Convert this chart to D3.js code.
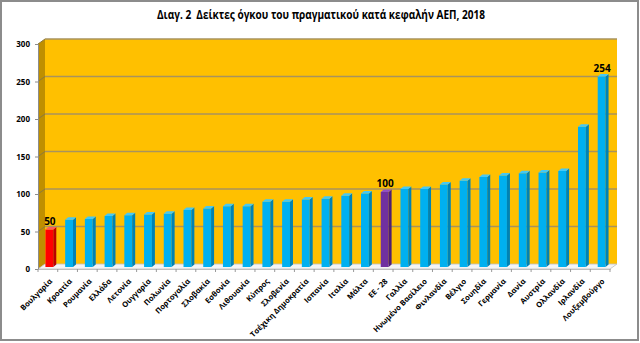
<!DOCTYPE html>
<html>
<head>
<meta charset="utf-8">
<script src="https://cdn.jsdelivr.net/npm/d3@7/dist/d3.min.js"></script>
<style>
  html, body { margin: 0; padding: 0; background: #fff; }
  svg { display: block; }
  text { font-family: "Open Sans", sans-serif; }
</style>
</head>
<body>
<div id="chart"></div>
<script>
const countries = ['Βουλγαρία', 'Κροατία', 'Ρουμανία', 'Ελλάδα', 'Λετονία', 'Ουγγαρία', 'Πολωνία',
  'Πορτογαλία', 'Σλοβακία', 'Εσθονία', 'Λιθουανία', 'Κύπρος', 'Σλοβενία', 'Τσέχικη Δημοκρατία',
  'Ισπανία', 'Ιταλία', 'Μάλτα', 'ΕΕ - 28', 'Γαλλία', 'Ηνωμένο Βασίλειο', 'Φινλανδία', 'Βέλγιο',
  'Σουηδία', 'Γερμανία', 'Δανία', 'Αυστρία', 'Ολλανδία', 'Ιρλανδία', 'Λουξεμβούργο'];
const values = [50, 63, 64, 68, 69, 70, 71, 76, 78, 81, 81, 87, 87, 90, 91, 95, 98, 100, 104, 104,
  110, 115, 120, 122, 125, 126, 128, 187, 254];
const labelled = ['Βουλγαρία', 'ΕΕ - 28', 'Λουξεμβούργο'];
const yTicks = [0, 50, 100, 150, 200, 250, 300];

const W = 640, H = 343;
const depth = { dx: 7, dy: -5 };

const svg = d3.select('#chart').append('svg')
  .attr('width', W)
  .attr('height', H);

// outer frame
svg.append('rect')
  .attr('x', 1).attr('y', 1)
  .attr('width', W - 3).attr('height', H - 4)
  .attr('fill', '#fff')
  .attr('stroke', '#8c8c8c')
  .attr('stroke-width', 2);

svg.append('text')
  .attr('x', 321)
  .attr('y', 19)
  .attr('text-anchor', 'middle')
  .attr('textLength', 328)
  .attr('lengthAdjust', 'spacingAndGlyphs')
  .style('font-size', '11.5px')
  .style('font-weight', 'bold')
  .style('white-space', 'pre')
  .text('Διαγ. 2  Δείκτες όγκου του πραγματικού κατά κεφαλήν ΑΕΠ, 2018');

const x = d3.scaleBand()
  .domain(countries)
  .range([38, 610])
  .paddingInner(0.5)
  .paddingOuter(0.25);

const y = d3.scaleLinear()
  .domain([0, 300])
  .range([269, 44]);

const x0 = 38, x1 = 610;

// back wall
svg.append('rect')
  .attr('x', x0 + depth.dx)
  .attr('y', y(300) + depth.dy)
  .attr('width', x1 - x0)
  .attr('height', y(0) - y(300))
  .attr('fill', '#FFC000');

// side wall
svg.append('polygon')
  .attr('points', [
    [x0, y(300)], [x0 + depth.dx, y(300) + depth.dy],
    [x0 + depth.dx, y(0) + depth.dy], [x0, y(0)]
  ].map(p => p.join(',')).join(' '))
  .attr('fill', '#BF8F00');

// floor
svg.append('polygon')
  .attr('points', [
    [x0, y(0)], [x0 + depth.dx, y(0) + depth.dy],
    [x1 + depth.dx, y(0) + depth.dy], [x1, y(0)]
  ].map(p => p.join(',')).join(' '))
  .attr('fill', '#F4F4F4')
  .attr('stroke', '#BFBFBF')
  .attr('stroke-width', 0.8);

// gridlines on the back wall and the side wall
const grid = svg.append('g');
yTicks.filter(t => t > 0).forEach(t => {
  grid.append('line')
    .attr('x1', x0 + depth.dx).attr('x2', x1 + depth.dx)
    .attr('y1', y(t) + depth.dy).attr('y2', y(t) + depth.dy)
    .attr('stroke', '#A8935E')
    .attr('stroke-width', 1.3);
  grid.append('line')
    .attr('x1', x0).attr('x2', x0 + depth.dx)
    .attr('y1', y(t)).attr('y2', y(t) + depth.dy)
    .attr('stroke', '#8E7A3C')
    .attr('stroke-width', 1);
});

// y axis
const yAxis = svg.append('g')
  .attr('transform', `translate(${x0},0)`)
  .call(d3.axisLeft(y).tickValues(yTicks).tickSize(3).tickPadding(5));
yAxis.select('.domain').attr('stroke', '#8c8c8c');
yAxis.selectAll('.tick line').attr('stroke', '#8c8c8c');
yAxis.selectAll('text')
  .style('font-size', '8px')
  .style('font-weight', 'bold')
  .attr('fill', '#000');

// x axis along the floor front edge
const xAxis = svg.append('g')
  .attr('transform', `translate(0,${y(0)})`)
  .call(d3.axisBottom(x).tickSize(0).tickPadding(0));
xAxis.select('.domain').attr('stroke', '#BFBFBF');
xAxis.selectAll('text')
  .style('font-size', '7.6px')
  .style('font-weight', 'bold')
  .attr('fill', '#000')
  .attr('text-anchor', 'end')
  .attr('y', 0)
  .attr('dy', '0.35em')
  .attr('transform', 'translate(3,11) rotate(-45)');

// category separators below the floor
svg.append('g')
  .selectAll('line')
  .data(d3.range(countries.length + 1))
  .enter().append('line')
  .attr('x1', i => x0 + i * x.step())
  .attr('x2', i => x0 + i * x.step())
  .attr('y1', y(0))
  .attr('y2', y(0) + 3)
  .attr('stroke', '#9a9a9a');

const colors = {
  'Βουλγαρία': ['#FF0000', '#B80000', '#FF5a5a'],
  'ΕΕ - 28': ['#7030A0', '#4E1F73', '#9152C0']
};
const blue = ['#00B0F0', '#0082B4', '#45C8F5'];
const bd = { dx: 2.5, dy: -2 };
const side = { dx: 3, dy: -2.5 };

const bars = svg.append('g')
  .selectAll('g')
  .data(countries)
  .enter().append('g');

bars.each(function (c, i) {
  const g = d3.select(this);
  const col = colors[c] || blue;
  const left = x(c) + bd.dx;
  const w = x.bandwidth() - side.dx + 1;
  const top = y(values[i]) + bd.dy;
  const bottom = y(0) + bd.dy;
  g.append('rect')
    .attr('x', left).attr('y', top)
    .attr('width', w).attr('height', bottom - top)
    .attr('fill', col[0]);
  g.append('polygon')
    .attr('points', [
      [left + w, top], [left + w + side.dx, top + side.dy],
      [left + w + side.dx, bottom + side.dy], [left + w, bottom]
    ].map(p => p.join(',')).join(' '))
    .attr('fill', col[1]);
  g.append('polygon')
    .attr('points', [
      [left, top], [left + side.dx, top + side.dy],
      [left + w + side.dx, top + side.dy], [left + w, top]
    ].map(p => p.join(',')).join(' '))
    .attr('fill', col[2]);
});

// value labels
svg.append('g')
  .selectAll('text')
  .data(countries.filter(c => labelled.includes(c)))
  .enter().append('text')
  .attr('x', c => x(c) + x.bandwidth() / 2 + 2)
  .attr('y', c => y(values[countries.indexOf(c)]) - 7)
  .attr('text-anchor', 'middle')
  .style('font-size', '10px')
  .style('font-weight', 'bold')
  .text(c => values[countries.indexOf(c)]);
</script>
</body>
</html>
